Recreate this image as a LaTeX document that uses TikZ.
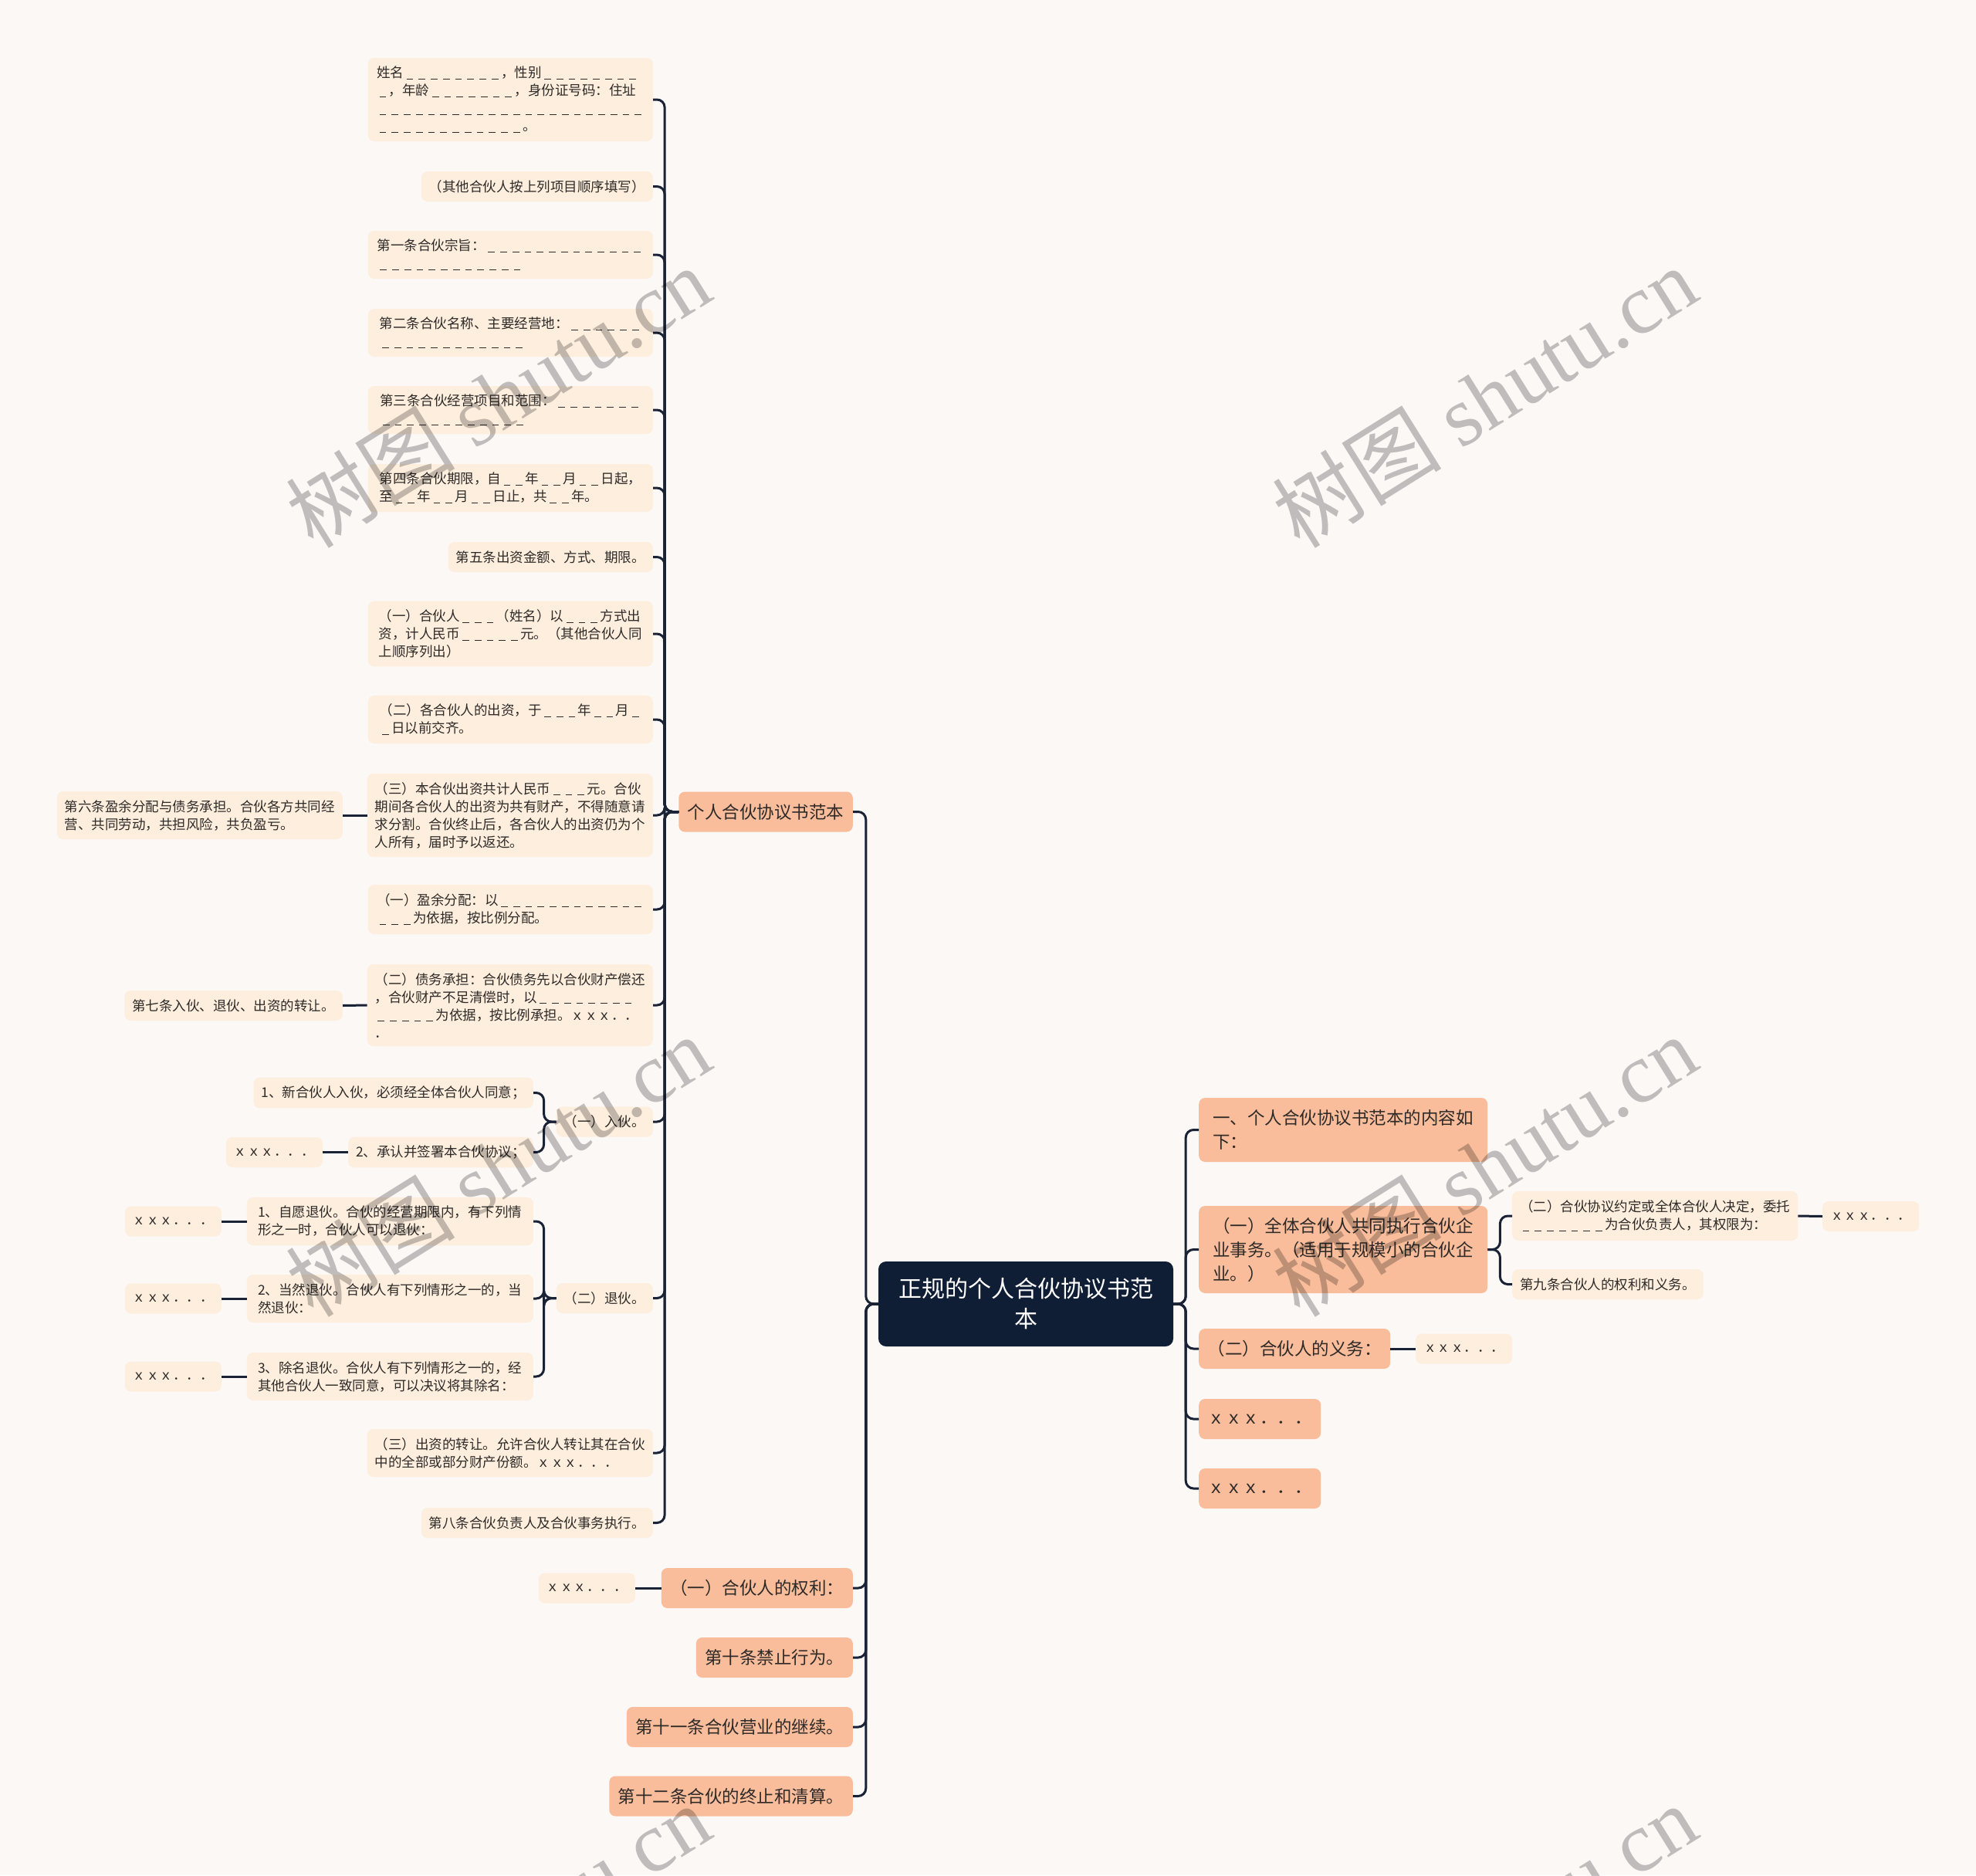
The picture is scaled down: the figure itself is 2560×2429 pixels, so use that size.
\documentclass[tikz,border=0pt]{standalone}
\usepackage{fontspec}
\setmainfont{Noto Sans CJK SC}
\newfontfamily\wmlatin{Liberation Serif}
\definecolor{bgc}{HTML}{FCF8F6}
\definecolor{smc}{HTML}{FDEEDD}
\definecolor{orc}{HTML}{F9BD9B}
\definecolor{rtc}{HTML}{0F1D35}
\definecolor{lc}{HTML}{1A2236}
\definecolor{tc}{HTML}{2E2A28}
\newcount\udcnt
\newcommand{\udash}[1]{\udcnt=#1\relax\loop\ifnum\udcnt>0 \hbox{\kern.2em\rule[-.12em]{.5em}{.07em}\kern.2em}\advance\udcnt by -1 \repeat}
\newcommand{\xxx}{ｘｘｘ．．．}
\tikzset{
  conn/.style={draw=lc, line width=3pt, rounded corners=10pt},
  sm/.style={fill=smc, rounded corners=8pt, inner xsep=10pt, inner ysep=11pt, align=left, font=\fontsize{17.5}{23}\selectfont, text=tc, minimum height=39pt},
  org/.style={fill=orc, rounded corners=8pt, inner xsep=11.5pt, inner ysep=14.75pt, align=left, font=\fontsize{22.5}{31}\selectfont, text=tc, minimum height=52pt},
  rootn/.style={fill=rtc, rounded corners=10pt, inner xsep=26pt, inner ysep=20.5pt, align=center, font=\fontsize{30}{39}\selectfont, text=white},
  wm/.style={rotate=32, text=black, text opacity=0.24, font=\fontsize{110}{110}\selectfont}
}
\begin{document}
\begin{tikzpicture}[x={(1pt,0pt)}, y={(0pt,-1pt)}]
\fill[bgc] (0,0) rectangle (2560,2429);
\useasboundingbox (0,0) rectangle (2560,2429);

% root
\node[rootn, minimum width=382pt, minimum height=110pt] (root) at (1329,1689) {正规的个人合伙协议书范\\本};

% left level 1
\node[org, anchor=east] (L1) at (1105,1051.5) {个人合伙协议书范本};
\node[org, anchor=east] (L2) at (1105,2057) {（一）合伙人的权利：};
\node[sm, anchor=east, minimum width=123pt] (L2x) at (823,2057) {\xxx};
\node[org, anchor=east] (L3) at (1105,2147) {第十条禁止行为。};
\node[org, anchor=east] (L4) at (1105,2237) {第十一条合伙营业的继续。};
\node[org, anchor=east] (L5) at (1105,2326.5) {第十二条合伙的终止和清算。};

% children of L1
\node[sm, anchor=east, minimum width=369pt, minimum height=108pt] (C1) at (846,129) {姓名\udash{8}，性别\udash{8}\\\udash{1}，年龄\udash{7}，身份证号码：住址\\\udash{22}\\\udash{12}。};
\node[sm, anchor=east] (C2) at (846,241.5) {（其他合伙人按上列项目顺序填写）};
\node[sm, anchor=east, minimum width=369pt, minimum height=62pt] (C3) at (846,330) {第一条合伙宗旨：\udash{13}\\\udash{12}};
\node[sm, anchor=east, minimum width=369pt, minimum height=62pt] (C4) at (846,431) {第二条合伙名称、主要经营地：\udash{6}\\\udash{12}};
\node[sm, anchor=east, minimum width=369pt, minimum height=62pt] (C5) at (846,531) {第三条合伙经营项目和范围：\udash{7}\\\udash{12}};
\node[sm, anchor=east, minimum width=369pt, minimum height=62pt] (C6) at (846,632) {第四条合伙期限，自\udash{2}年\udash{2}月\udash{2}日起，\\至\udash{2}年\udash{2}月\udash{2}日止，共\udash{2}年。};
\node[sm, anchor=east] (C7) at (846,721.5) {第五条出资金额、方式、期限。};
\node[sm, anchor=east, minimum width=369pt, minimum height=82pt] (C8) at (846,821) {（一）合伙人\udash{3}（姓名）以\udash{3}方式出\\资，计人民币\udash{5}元。（其他合伙人同\\上顺序列出）};
\node[sm, anchor=east, minimum width=369pt, minimum height=62pt] (C9) at (846,932) {（二）各合伙人的出资，于\udash{3}年\udash{2}月\udash{1}\\\udash{1}日以前交齐。};
\node[sm, anchor=east, minimum width=369pt, minimum height=108pt] (C10) at (846,1056) {（三）本合伙出资共计人民币\udash{3}元。合伙\\期间各合伙人的出资为共有财产，不得随意请\\求分割。合伙终止后，各合伙人的出资仍为个\\人所有，届时予以返还。};
\node[sm, anchor=east, minimum width=369pt, minimum height=62pt] (C10a) at (444,1056) {第六条盈余分配与债务承担。合伙各方共同经\\营、共同劳动，共担风险，共负盈亏。};
\node[sm, anchor=east, minimum width=369pt, minimum height=64pt] (C11) at (846,1178) {（一）盈余分配：以\udash{12}\\\udash{3}为依据，按比例分配。};
\node[sm, anchor=east, minimum width=369pt, minimum height=106pt] (C12) at (846,1302) {（二）债务承担：合伙债务先以合伙财产偿还\\，合伙财产不足清偿时，以\udash{8}\\\udash{5}为依据，按比例承担。ｘｘｘ．．\\．};
\node[sm, anchor=east] (C12a) at (444,1302.5) {第七条入伙、退伙、出资的转让。};
\node[sm, anchor=east, minimum width=123pt] (C13) at (846,1453) {（一）入伙。};
\node[sm, anchor=east] (C13a) at (691,1415.5) {1、新合伙人入伙，必须经全体合伙人同意；};
\node[sm, anchor=east] (C13b) at (691,1492.5) {2、承认并签署本合伙协议；};
\node[sm, anchor=east, minimum width=122pt] (C13bx) at (418,1492.5) {\xxx};
\node[sm, anchor=east, minimum width=123pt] (C14) at (846,1681.5) {（二）退伙。};
\node[sm, anchor=east, minimum width=371pt, minimum height=62pt] (C14a) at (691,1582) {1、自愿退伙。合伙的经营期限内，有下列情\\形之一时，合伙人可以退伙：};
\node[sm, anchor=east, minimum width=371pt, minimum height=62pt] (C14b) at (691,1682) {2、当然退伙。合伙人有下列情形之一的，当\\然退伙：};
\node[sm, anchor=east, minimum width=371pt, minimum height=62pt] (C14c) at (691,1783) {3、除名退伙。合伙人有下列情形之一的，经\\其他合伙人一致同意，可以决议将其除名：};
\node[sm, anchor=east, minimum width=122pt] (C14ax) at (287,1582) {\xxx};
\node[sm, anchor=east, minimum width=122pt] (C14bx) at (287,1682) {\xxx};
\node[sm, anchor=east, minimum width=122pt] (C14cx) at (287,1783) {\xxx};
\node[sm, anchor=east, minimum width=369pt, minimum height=62pt] (C15) at (846,1882) {（三）出资的转让。允许合伙人转让其在合伙\\中的全部或部分财产份额。\xxx};
\node[sm, anchor=east] (C16) at (846,1972.5) {第八条合伙负责人及合伙事务执行。};

% right side
\node[org, anchor=west, minimum width=374pt, minimum height=83pt] (R1) at (1553,1463.5) {一、个人合伙协议书范本的内容如\\下：};
\node[org, anchor=west, minimum width=374pt, minimum height=113pt] (R2) at (1553,1618.5) {（一）全体合伙人共同执行合伙企\\业事务。（适用于规模小的合伙企\\业。）};
\node[org, anchor=west] (R3) at (1553,1747) {（二）合伙人的义务：};
\node[org, anchor=west, minimum width=156pt] (R4) at (1553,1838) {\xxx};
\node[org, anchor=west, minimum width=156pt] (R5) at (1553,1928) {\xxx};
\node[sm, anchor=west, minimum width=369pt, minimum height=64pt] (R2a) at (1959,1575) {（二）合伙协议约定或全体合伙人决定，委托\\\udash{7}为合伙负责人，其权限为：};
\node[sm, anchor=west, minimum width=122pt] (R2ax) at (2361,1575.5) {\xxx};
\node[sm, anchor=west] (R2b) at (1959,1663.5) {第九条合伙人的权利和义务。};
\node[sm, anchor=west, minimum width=122pt] (R3x) at (1834,1747) {\xxx};

% connectors: root left
\foreach \c in {L1,L2,L3,L4,L5}{\draw[conn] (root.west) -- ++(-16,0) |- (\c.east);}
% root right
\foreach \c in {R1,R2,R3,R4,R5}{\draw[conn] (root.east) -- ++(16,0) |- (\c.west);}
% L1 children
\foreach \c in {C1,C2,C3,C4,C5,C6,C7,C8,C9,C10,C11,C12,C13,C14,C15,C16}{\draw[conn] (L1.west) -- ++(-18,0) |- (\c.east);}
% C13, C14 children
\foreach \c in {C13a,C13b}{\draw[conn] (C13.west) -- ++(-16,0) |- (\c.east);}
\foreach \c in {C14a,C14b,C14c}{\draw[conn] (C14.west) -- ++(-16,0) |- (\c.east);}
% R2 children
\foreach \c in {R2a,R2b}{\draw[conn] (R2.east) -- ++(16,0) |- (\c.west);}
% straight
\draw[conn] (C10.west) -- (C10a.east);
\draw[conn] (C12.west) -- (C12a.east);
\draw[conn] (C13b.west) -- (C13bx.east);
\draw[conn] (C14a.west) -- (C14ax.east);
\draw[conn] (C14b.west) -- (C14bx.east);
\draw[conn] (C14c.west) -- (C14cx.east);
\draw[conn] (L2.west) -- (L2x.east);
\draw[conn] (R3.east) -- (R3x.west);
\draw[conn] (R2a.east) -- (R2ax.west);

% watermarks
\node[wm] (wm1) at (645,514) {树图 {\wmlatin shutu.cn}};
\node[wm] (wm2) at (1923,514) {树图 {\wmlatin shutu.cn}};
\node[wm] (wm3) at (645,1510) {树图 {\wmlatin shutu.cn}};
\node[wm] (wm4) at (1923,1510) {树图 {\wmlatin shutu.cn}};
\node[wm] (wm5) at (645,2506) {树图 {\wmlatin shutu.cn}};
\node[wm] (wm6) at (1923,2506) {树图 {\wmlatin shutu.cn}};
\end{tikzpicture}
\end{document}
